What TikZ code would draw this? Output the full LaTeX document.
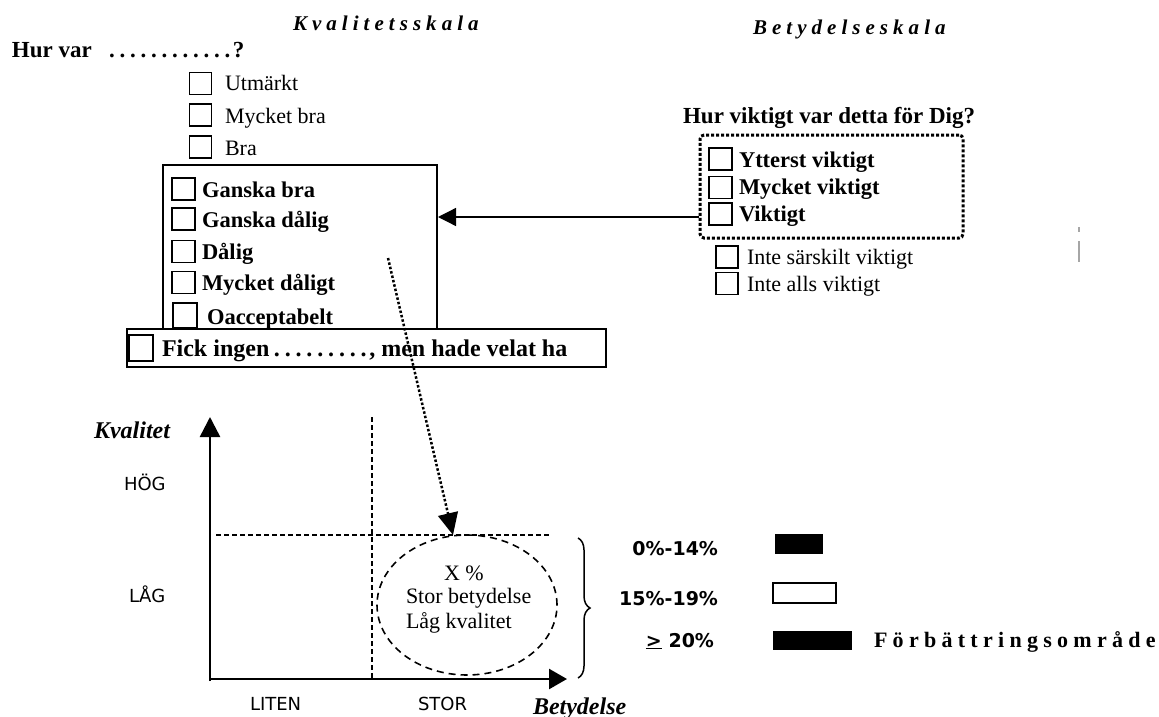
\documentclass[tikz,border=0pt]{standalone}
\usepackage{fontspec}
\setmainfont{Liberation Serif}
\newfontfamily\sansf{DejaVu Sans}
\usetikzlibrary{arrows.meta,shapes.geometric,decorations.pathreplacing}
\newcommand\dotrow[1]{\hbox to #1{\xleaders\hbox to 10.5pt{\hss.\hss}\hfill}}
\begin{document}
\begin{tikzpicture}[x=1pt,y=-1pt,
  lbl/.style={anchor=base west,inner sep=0pt,outer sep=0pt},
  reg/.style={lbl,font=\fontsize{22}{24}\selectfont},
  bld/.style={lbl,font=\fontsize{22.5}{24}\selectfont\bfseries},
  ques/.style={inner sep=0pt,outer sep=0pt,font=\fontsize{23}{24}\selectfont\bfseries},
  ttl/.style={lbl,font=\fontsize{21}{21}\selectfont\bfseries\itshape\addfontfeatures{LetterSpace=24}},
  axlbl/.style={lbl,font=\fontsize{24}{24}\selectfont\bfseries\itshape},
  sanslbl/.style={lbl,font=\sansf\fontsize{18}{18}\selectfont},
  pct/.style={anchor=base east,inner sep=0pt,outer sep=0pt,font=\sansf\bfseries\fontsize{19}{19}\selectfont},
  cbox/.style={draw,line width=1.8pt,minimum width=22pt,minimum height=22pt,inner sep=0pt},
  frame/.style={draw,line width=2pt,inner sep=0pt},
  dotframe/.style={draw,line width=3pt,dash pattern=on 3pt off 2pt,rounded corners=4pt,inner sep=0pt},
  axis/.style={line width=2.5pt,-{Triangle[length=20pt,width=20pt]}},
  guide/.style={line width=1.8pt,dash pattern=on 5pt off 3pt},
  conn/.style={line width=1.3pt,-{Triangle[length=18pt,width=18pt]}},
  dotarrow/.style={line width=2.5pt,dash pattern=on 2.5pt off 2pt,-{Triangle[length=22pt,width=20pt]}},
  ]
\useasboundingbox (0,0) rectangle (1159,717);

% titles
\node[ttl] (ttlK) at (293,31) {Kvalitetsskala};
\node[ttl] (ttlB) at (753,35) {Betydelseskala};

% left question
\node[ques,lbl] (qL) at (12,58) {Hur var\hspace{15pt}\dotrow{126pt}?};

% regular options above box
\node[cbox] (cU) at (200.5,83.5) {};
\node[reg] (tU) at (225,91) {Utmärkt};
\node[cbox] (cMb) at (200.5,115) {};
\node[reg] (tMb) at (225,123) {Mycket bra};
\node[cbox] (cB) at (200.5,147) {};
\node[reg] (tB) at (225,155) {Bra};

% big box
\node[frame,minimum width=274pt,minimum height=165pt] (big) at (300,247.5) {};
\node[cbox,minimum width=23pt] (cGb) at (183.5,189) {};
\node[bld] (tGb) at (202,197) {Ganska bra};
\node[cbox,minimum width=23pt] (cGd) at (183.5,219) {};
\node[bld] (tGd) at (202,227) {Ganska dålig};
\node[cbox,minimum width=23pt] (cD) at (183.5,251.5) {};
\node[bld] (tD) at (202,259) {Dålig};
\node[cbox,minimum width=23pt] (cMd) at (183.5,282.5) {};
\node[bld] (tMd) at (202,290) {Mycket dåligt};
\node[cbox,minimum width=24pt,minimum height=25pt] (cO) at (185,315.5) {};
\node[bld] (tO) at (207,324) {Oacceptabelt};

% Fick row
\node[frame,fill=white,minimum width=479pt,minimum height=38pt] (fick) at (366.5,348) {};
\node[cbox,minimum width=24pt,minimum height=26pt] (cF) at (141,348) {};
\node[lbl,font=\fontsize{24}{24}\selectfont\bfseries] (tF) at (162,356) {Fick ingen\hspace{2pt}\dotrow{98pt}, men hade velat ha};

% right side
\node[ques,anchor=base east] (qR) at (975,123) {Hur viktigt var detta för Dig?};
\node[dotframe,minimum width=263pt,minimum height=103pt] (dbox) at (831.5,186.5) {};
\node[cbox,minimum width=23pt] (cY) at (720.5,159) {};
\node[bld] (tY) at (739,167) {Ytterst viktigt};
\node[cbox,minimum width=23pt] (cMv) at (720.5,187.5) {};
\node[bld] (tMv) at (739,194) {Mycket viktigt};
\node[cbox,minimum width=23pt] (cV) at (720.5,214) {};
\node[bld] (tV) at (739,221) {Viktigt};
\node[cbox] (cIs) at (727,257) {};
\node[reg] (tIs) at (747,264) {Inte särskilt viktigt};
\node[cbox] (cIa) at (727,283.5) {};
\node[reg] (tIa) at (747,291) {Inte alls viktigt};

% connector between scales
\coordinate (arrY) at (0,217);
\draw[conn] (dbox.west |- arrY) -- (big.east |- arrY);

% stray scan mark
\fill[gray!70] (1078,227) rectangle (1080,232);
\draw[gray!70,line width=1.5pt] (1079,241) -- (1079,262);

% chart
\coordinate (yb) at (210,681);
\coordinate (yt) at (210,417);
\coordinate (xl) at (209,679);
\coordinate (xr) at (567,679);
\draw[axis] (yb) -- (yt);
\draw[axis,-{Triangle[length=18pt,width=20pt]}] (xl) -- (xr);
\coordinate (hl) at (216,535);
\coordinate (hr) at (549,535);
\coordinate (vt) at (372,417);
\coordinate (vb) at (372,678);
\draw[guide] (hl) -- (hr);
\draw[guide] (vt) -- (vb);
\node[draw,ellipse,line width=1.6pt,dash pattern=on 7pt off 5pt,minimum width=180pt,minimum height=140pt,inner sep=0pt] (ell) at (467,605) {};
\node[reg] (tX) at (444,580) {X \%};
\node[reg] (tSb) at (406,603) {Stor betydelse};
\node[reg] (tLk) at (406,628) {Låg kvalitet};

\coordinate (ds) at (388,258);
\coordinate (de) at (453,535);
\draw[dotarrow] (ds) -- (de);

\node[axlbl] (lK) at (94,438) {Kvalitet};
\node[axlbl] (lB) at (533,714) {Betydelse};
\node[sanslbl] (lH) at (124,490) {HÖG};
\node[sanslbl] (lL) at (129,602) {LÅG};
\node[sanslbl] (lLi) at (250,710) {LITEN};
\node[sanslbl] (lS) at (418,710) {STOR};

% brace
\coordinate (bt) at (578,538);
\coordinate (bb) at (578,678);
\draw[line width=1.5pt,decorate,decoration={brace,amplitude=12pt}] (bt) -- (bb);

% legend
\node[pct] (p1) at (718,555) {0\%-14\%};
\node[pct] (p2) at (718,605) {15\%-19\%};
\node[pct] (p3) at (714,647) {\underline{>} 20\%};
\node[fill=black,minimum width=48pt,minimum height=20pt,inner sep=0pt] (k1) at (799,544) {};
\node[draw,line width=1.3pt,fill=white,minimum width=63pt,minimum height=20pt,inner sep=0pt] (k2) at (804.5,593) {};
\node[fill=black,minimum width=79pt,minimum height=19pt,inner sep=0pt] (k3) at (812.5,640.5) {};
\node[lbl,font=\fontsize{22}{22}\selectfont\bfseries\addfontfeatures{LetterSpace=24}] (tFo) at (874,647) {Förbättringsområde};
\end{tikzpicture}
\end{document}
